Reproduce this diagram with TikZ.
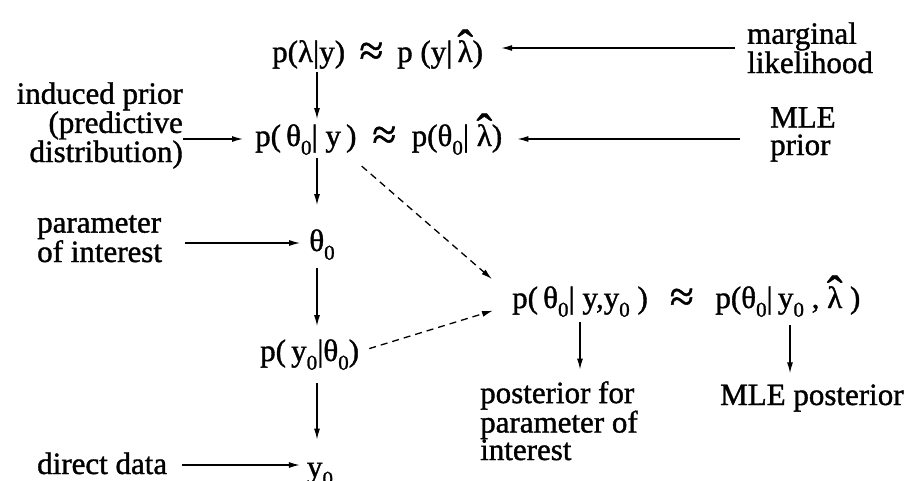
\documentclass[tikz,border=0pt]{standalone}
\usepackage{fontspec}
\setmainfont[FakeBold=1.2]{Liberation Serif}
\usetikzlibrary{arrows.meta,calc}
\newcommand\zr{\raisebox{-0.28em}{\fontsize{21}{21}\selectfont 0}}
\newcommand\lhat{\ooalign{λ\cr\hidewidth\scalebox{1.5}{ˆ}\hidewidth\cr}}
\newcommand\bigapx{\raisebox{-0.1em}{\scalebox{1.4}{≈}}}
\newcommand\apx{\hspace{0.45em}\bigapx\hspace{0.45em}}
\begin{document}
\begin{tikzpicture}[x=1pt,y=-1pt,
  every node/.style={inner sep=0pt, font=\fontsize{31}{27.5}\selectfont},
  arr/.style={-{Latex[length=11pt,width=6pt]}, line width=1.3pt},
  darr/.style={arr, dash pattern=on 7pt off 5pt}]
\useasboundingbox (0,0) rectangle (913,480);
\coordinate (col) at (317,0);
\coordinate (colb) at (790,0);
\coordinate (r1) at (0,48);
\coordinate (r2) at (0,139);
\coordinate (r3) at (0,243);
\coordinate (r4) at (0,465);
% row 1
\node[anchor=base west] (f1a) at (272,62) {p(λ|y)};
\node[anchor=base west] (f1b) at (f1a.base east) {\apx p (y|\,\lhat)};
\node[anchor=base west, align=left] (marg) at (747,73) {marginal\\likelihood};
% row 2
\node[anchor=base west] (f2a) at (255,146) {p(\,θ\zr|\ y\,)};
\node[anchor=base west] (f2b) at (f2a.base east) {\hspace{0.5em}\bigapx\hspace{0.5em}p(θ\zr|\ \lhat)};
\node[anchor=base east, align=right] (ip) at (183,162) {induced prior\\(predictive\\distribution)};
\node[anchor=base west, align=left] (mp) at (770,155) {MLE\\prior};
% chain
\node[anchor=base] (th) at (322,251) {θ\zr};
\node[anchor=base west, align=left] (poi) at (37,262) {parameter\\of interest};
\node[anchor=base west] (py) at (260,361) {p(\,y\zr|θ\zr)};
\node[anchor=base] (y0) at (320,477) {y\zr};
\node[anchor=base west] (dd) at (37,474) {direct data};
% row 3
\node[anchor=base west] (f3a) at (512,308) {p(\,θ\zr|\ y,y\zr\ )};
\node[anchor=base west] (f3b) at (f3a.base east) {\hspace{0.7em}\bigapx\hspace{0.7em}p(θ\zr|\,y\zr\ ,\ \lhat\ )};
\node[anchor=base west, align=left] (pp) at (480,460) {posterior for\\parameter of\\interest};
\node[anchor=base west] (mlep) at (720,405) {MLE posterior};
% vertical arrows
\draw[arr, shorten <=3pt, shorten >=5pt] (f1a.south -| col) -- (f2a.north -| col);
\draw[arr, shorten <=3pt, shorten >=24pt] (f2a.south -| col) -- (th.north -| col);
\draw[arr, shorten <=8pt, shorten >=13pt] (th.south -| col) -- (py.north -| col);
\draw[arr, shorten <=13pt, shorten >=23pt] (py.south -| col) -- (y0.north -| col);
\draw[arr, shorten <=5pt, shorten >=11.5pt] (f3a.south) -- (f3a.south |- pp.north);
\draw[arr, shorten <=8pt, shorten >=11pt] (f3b.south -| colb) -- (mlep.north -| colb);
% horizontal arrows
\draw[arr, shorten <=12pt, shorten >=18pt] (marg.west |- r1) -- (f1b.east |- r1);
\draw[arr, shorten <=30pt, shorten >=15pt] (mp.west |- r2) -- (f2b.east |- r2);
\draw[arr, shorten >=12pt] (ip.east |- r2) -- (f2a.west |- r2);
\draw[arr, shorten <=23pt, shorten >=9pt] (poi.east |- r3) -- (th.west |- r3);
\draw[arr, shorten <=15pt, shorten >=7pt] (dd.east |- r4) -- (y0.west |- r4);
% dashed arrows
\draw[darr] ([shift={(5,11)}]f2a.south east) -- ([shift={(-20,-7)}]f3a.north west);
\draw[darr] ([shift={(10,-6)}]py.east) -- ([shift={(-19,9)}]f3a.west);
\end{tikzpicture}
\end{document}
